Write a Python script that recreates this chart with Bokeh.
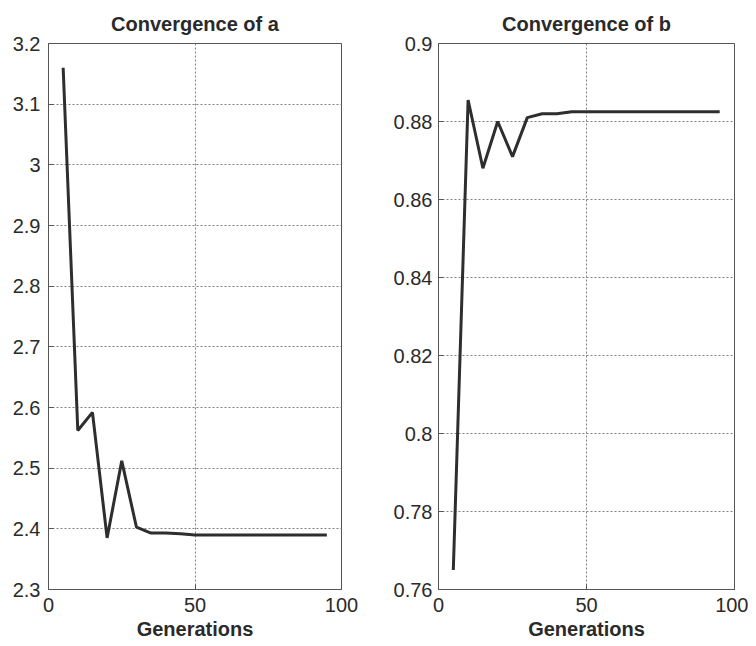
from bokeh.plotting import figure
from bokeh.layouts import row
from bokeh.models import FixedTicker, CustomJSTickFormatter, Range1d
from bokeh.embed import file_html
from bokeh.resources import INLINE

generations = [5, 10, 15, 20, 25, 30, 35, 40, 45, 50, 55, 60, 65, 70, 75, 80, 85, 90, 95]
a_values = [3.160, 2.562, 2.592, 2.385, 2.512, 2.403, 2.393, 2.393, 2.392, 2.390,
            2.390, 2.390, 2.390, 2.390, 2.390, 2.390, 2.390, 2.390, 2.390]
b_values = [0.765, 0.8855, 0.868, 0.880, 0.871, 0.881, 0.882, 0.882, 0.8825, 0.8825,
            0.8825, 0.8825, 0.8825, 0.8825, 0.8825, 0.8825, 0.8825, 0.8825, 0.8825]
a_ticks = [2.3, 2.4, 2.5, 2.6, 2.7, 2.8, 2.9, 3.0, 3.1, 3.2]
b_ticks = [0.76, 0.78, 0.80, 0.82, 0.84, 0.86, 0.88, 0.90]
x_ticks = [0, 50, 100]

FONT = "Liberation Sans"
TXT = "#2a2a2a"
fmt = CustomJSTickFormatter(code="return Number(tick.toFixed(3)).toString();")


def make(title, ys, yticks, ymin, ymax, width, bl, br, ystand):
    p = figure(width=width, height=644, output_backend="svg", toolbar_location=None,
               x_range=Range1d(0, 100), y_range=Range1d(ymin, ymax),
               min_border_left=bl, min_border_right=br, min_border_top=43,
               min_border_bottom=55)
    p.title.text = title
    p.title.align = "center"
    p.title.text_font = FONT
    p.title.text_font_style = "bold"
    p.title.text_font_size = "20px"
    p.title.text_color = TXT
    p.title.standoff = 18
    p.line(generations, ys, line_color="#2e2e2e", line_width=3)
    p.xaxis.ticker = FixedTicker(ticks=x_ticks)
    p.yaxis.ticker = FixedTicker(ticks=yticks)
    p.yaxis.formatter = fmt
    p.xaxis.axis_label = "Generations"
    p.xaxis.axis_label_text_font = FONT
    p.xaxis.axis_label_text_font_style = "bold"
    p.xaxis.axis_label_text_font_size = "20px"
    p.xaxis.axis_label_text_color = TXT
    p.xaxis.axis_label_standoff = 3
    for ax in (p.xaxis, p.yaxis):
        ax.major_label_text_font = FONT
        ax.major_label_text_font_size = "20px"
        ax.major_label_text_color = TXT
        ax.major_tick_in = 5
        ax.major_tick_out = 0
        ax.minor_tick_line_color = None
        ax.axis_line_color = "#555555"
        ax.major_tick_line_color = "#555555"
    p.xaxis.major_label_standoff = 8
    p.yaxis.major_label_standoff = ystand
    p.grid.grid_line_color = "#808080"
    p.grid.grid_line_dash = "2 2"
    p.grid.grid_line_width = 1
    p.outline_line_color = "#555555"
    p.outline_line_width = 1
    return p


p1 = make("Convergence of a", a_values, a_ticks, 2.3, 3.2, 385, 48, 44, 8)
p2 = make("Convergence of b", b_values, b_ticks, 0.76, 0.90, 363, 53, 14, 6)

layout = row(p1, p2)
open("out.html", "w").write(file_html(layout, INLINE))
